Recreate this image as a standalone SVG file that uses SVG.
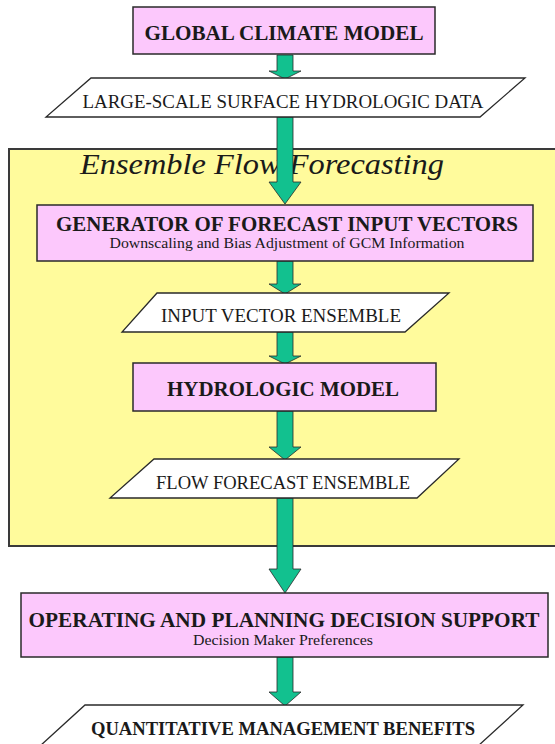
<svg xmlns="http://www.w3.org/2000/svg" width="555" height="744" viewBox="0 0 555 744">
  <style>
    .box { fill: #fcc8fc; stroke: #2a2a2a; stroke-width: 1.5; }
    .data { fill: #ffffff; stroke: #2a2a2a; stroke-width: 1.3; }
    .panel { fill: #fffb9c; stroke: #3a3a3a; stroke-width: 2; }
    .arrow { fill: #12c18f; stroke: #2a2a2a; stroke-width: 0.8; stroke-linejoin: miter; }
    text { font-family: "Liberation Serif", "Times New Roman", serif; fill: #1a1a1a; text-anchor: middle; }
    .title { font-weight: bold; font-size: 20.8px; }
    .label { font-size: 18.7px; }
    .sub { font-size: 14px; }
    .panel-title { font-style: italic; font-size: 29px; text-anchor: start; }
  </style>

  <rect width="555" height="744" fill="#ffffff"/>

  <!-- ensemble forecasting panel (background) -->
  <g id="ensemble-panel">
    <rect class="panel" x="9" y="149" width="560" height="397"/>
    <text class="panel-title" x="80" y="174" textLength="364" lengthAdjust="spacingAndGlyphs">Ensemble Flow Forecasting</text>
  </g>

  <!-- block arrows between stages -->
  <g id="connectors">
    <polygon class="arrow" points="277,55 293,55 293,71 301,71 285,79 269,71 277,71"/>
    <polygon class="arrow" points="277,117 293,117 293,182 301,182 285,204 269,182 277,182"/>
    <polygon class="arrow" points="277,261 293,261 293,284 301,284 285,294 269,284 277,284"/>
    <polygon class="arrow" points="277,332 293,332 293,356 301,356 285,364 269,356 277,356"/>
    <polygon class="arrow" points="277,411 293,411 293,447 301,447 285,460 269,447 277,447"/>
    <polygon class="arrow" points="277,498 293,498 293,569 301,569 285,593 269,569 277,569"/>
    <polygon class="arrow" points="277,657 293,657 293,692 301,692 285,706 269,692 277,692"/>
  </g>

  <g id="global-climate-model">
    <rect class="box" x="133" y="7" width="302" height="47"/>
    <text class="title" x="284" y="39.5" textLength="279" lengthAdjust="spacingAndGlyphs">GLOBAL CLIMATE MODEL</text>
  </g>

  <g id="surface-hydrologic-data">
    <polygon class="data" points="91,78 525,78 480,117 46,117"/>
    <text class="label" x="283" y="108" textLength="401" lengthAdjust="spacingAndGlyphs">LARGE-SCALE SURFACE HYDROLOGIC DATA</text>
  </g>

  <g id="input-vector-generator">
    <rect class="box" x="37" y="205" width="496" height="56"/>
    <text class="title" x="287" y="230.5" textLength="462" lengthAdjust="spacingAndGlyphs">GENERATOR OF FORECAST INPUT VECTORS</text>
    <text class="sub" x="287" y="248" textLength="355" lengthAdjust="spacingAndGlyphs">Downscaling and Bias Adjustment of GCM Information</text>
  </g>

  <g id="input-vector-ensemble">
    <polygon class="data" points="157,293 449,293 405,332 122,332"/>
    <text class="label" x="281" y="322" textLength="240" lengthAdjust="spacingAndGlyphs">INPUT VECTOR ENSEMBLE</text>
  </g>

  <g id="hydrologic-model">
    <rect class="box" x="133" y="363" width="303" height="48"/>
    <text class="title" x="283" y="396" textLength="232" lengthAdjust="spacingAndGlyphs">HYDROLOGIC MODEL</text>
  </g>

  <g id="flow-forecast-ensemble">
    <polygon class="data" points="154,459 459,459 417,498 110,498"/>
    <text class="label" x="283" y="489" textLength="254" lengthAdjust="spacingAndGlyphs">FLOW FORECAST ENSEMBLE</text>
  </g>

  <g id="decision-support">
    <rect class="box" x="21" y="593" width="527" height="64"/>
    <text class="title" x="284" y="626.5" textLength="511" lengthAdjust="spacingAndGlyphs">OPERATING AND PLANNING DECISION SUPPORT</text>
    <text class="sub" x="283" y="645" textLength="180" lengthAdjust="spacingAndGlyphs">Decision Maker Preferences</text>
  </g>

  <g id="management-benefits">
    <polygon class="data" points="85,705 523,705 478,746 40,746"/>
    <text class="title" x="283" y="735" style="font-size:18.3px" textLength="384" lengthAdjust="spacingAndGlyphs">QUANTITATIVE MANAGEMENT BENEFITS</text>
  </g>
</svg>
